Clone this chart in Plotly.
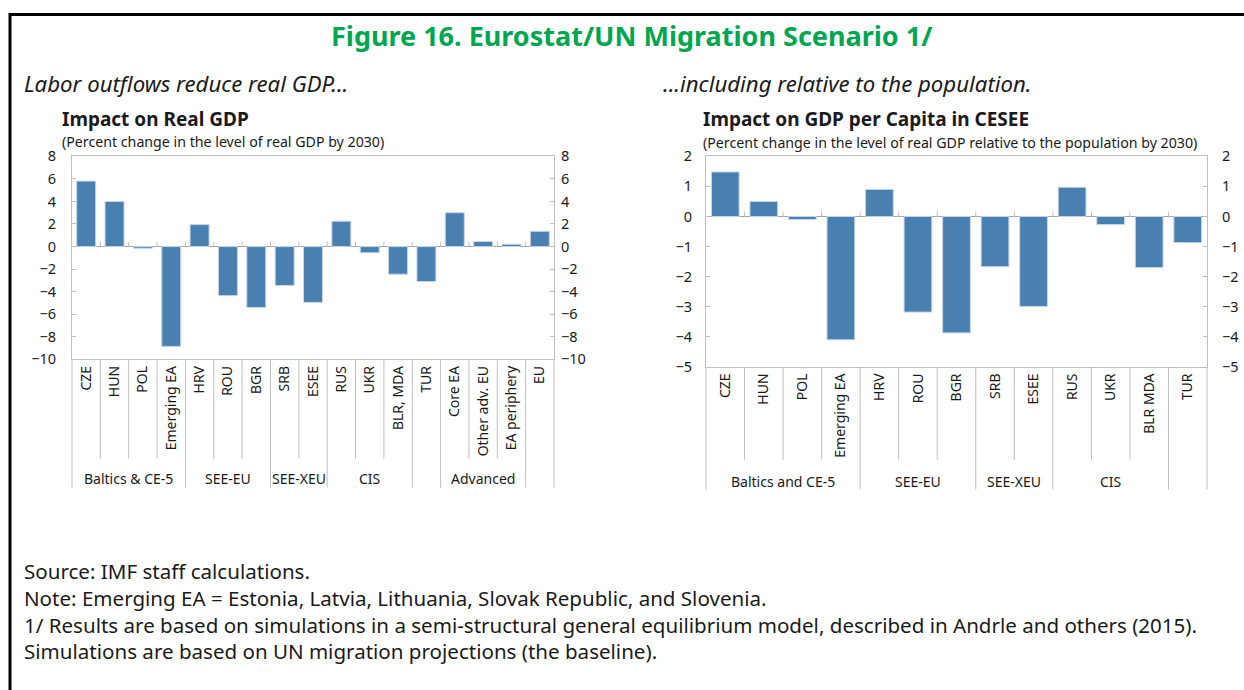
import plotly.graph_objects as go

# ---------------- data ----------------
cats_left = ["CZE", "HUN", "POL", "Emerging EA", "HRV", "ROU", "BGR", "SRB", "ESEE",
             "RUS", "UKR", "BLR, MDA", "TUR", "Core EA", "Other adv. EU", "EA periphery", "EU"]
gdp_left = [5.8, 4.0, -0.15, -8.85, 1.95, -4.35, -5.4, -3.45, -4.95,
            2.25, -0.55, -2.45, -3.1, 3.0, 0.45, 0.2, 1.35]
groups_left = ["Baltics & CE-5", "SEE-EU", "SEE-XEU", "CIS", "", "Advanced", ""]
group_sizes_left = [4, 3, 2, 3, 1, 3, 1]

cats_right = ["CZE", "HUN", "POL", "Emerging EA", "HRV", "ROU", "BGR", "SRB", "ESEE",
              "RUS", "UKR", "BLR MDA", "TUR"]
gdppc_right = [1.48, 0.5, -0.1, -4.1, 0.9, -3.18, -3.87, -1.67, -2.99,
               0.97, -0.27, -1.7, -0.87]
groups_right = ["Baltics and CE-5", "SEE-EU", "SEE-XEU", "CIS", ""]
group_sizes_right = [4, 3, 2, 3, 1]

title_text = "Figure 16. Eurostat/UN Migration Scenario 1/"
lead_left = "Labor outflows reduce real GDP..."
lead_right = "...including relative to the population."
chart_title_left = "Impact on Real GDP"
chart_sub_left = "(Percent change in the level of real GDP by 2030)"
chart_title_right = "Impact on GDP per Capita in CESEE"
chart_sub_right = "(Percent change in the level of real GDP relative to the population by 2030)"
notes = ["Source: IMF staff calculations.",
         "Note: Emerging EA = Estonia, Latvia, Lithuania, Slovak Republic, and Slovenia.",
         "1/ Results are based on simulations in a semi-structural general equilibrium model, described in Andrle and others (2015).",
         "Simulations are based on UN migration projections (the baseline)."]

# ---------------- layout constants ----------------
W, H = 1244, 690
FONT = "Noto Sans"
BAR = "#4A80B0"
BAR_EDGE = "#C7D6E9"
AXC = "#BFBFBF"
TXT = "#1a1a1a"
# the captured page shows a small vertical inset; compensate so targets land on reference pixels
V_SCALE, V_OFF = 0.973, 9.4


def px(x):
    return x / W


def py(y):
    return 1 - ((y - V_OFF) / V_SCALE) / H


fig = go.Figure()

fig.add_trace(go.Bar(x=cats_left, y=gdp_left, xaxis="x", yaxis="y", width=0.67,
                     marker=dict(color=BAR, line=dict(color=BAR_EDGE, width=1)),
                     showlegend=False, hoverinfo="x+y"))
fig.add_trace(go.Scatter(x=cats_left, y=gdp_left, xaxis="x", yaxis="y3", mode="none",
                         showlegend=False, hoverinfo="skip"))
fig.add_trace(go.Bar(x=cats_right, y=gdppc_right, xaxis="x2", yaxis="y2", width=0.72,
                     marker=dict(color=BAR, line=dict(color=BAR_EDGE, width=1)),
                     showlegend=False, hoverinfo="x+y"))
fig.add_trace(go.Scatter(x=cats_right, y=gdppc_right, xaxis="x2", yaxis="y4", mode="none",
                         showlegend=False, hoverinfo="skip"))

tickfont = dict(family=FONT, size=14.5, color=TXT)
catfont = dict(family=FONT, size=14, color=TXT)

L_dom_x = [px(72), px(554)]
L_dom_y = [py(358.5), py(155)]
R_dom_x = [px(706), px(1207)]
R_dom_y = [py(366), py(155)]

xcommon = dict(type="category", tickangle=-90, ticks="", showline=True, linecolor=AXC,
               mirror=True, showgrid=False, tickfont=catfont, fixedrange=True)
ycommon = dict(showgrid=False, ticks="inside", ticklen=4, tickcolor=AXC, showline=True,
               linecolor=AXC, mirror=True, zeroline=True, zerolinecolor="#A6A6A6",
               zerolinewidth=1, tickfont=tickfont, fixedrange=True)

fig.update_layout(
    width=W, height=H,
    margin=dict(l=0, r=0, t=0, b=0),
    paper_bgcolor="white", plot_bgcolor="white",
    font=dict(family=FONT, color=TXT),
    xaxis=dict(domain=L_dom_x, anchor="y", ticklabelstandoff=0, **xcommon),
    yaxis=dict(domain=L_dom_y, anchor="x", range=[-10, 8], dtick=2,
               ticklabelstandoff=12, **ycommon),
    yaxis3=dict(overlaying="y", side="right", anchor="x", range=[-10, 8], dtick=2,
                showgrid=False, ticks="inside", ticklen=4, tickcolor=AXC, showline=False,
                zeroline=False, tickfont=tickfont, ticklabelstandoff=6, fixedrange=True),
    xaxis2=dict(domain=R_dom_x, anchor="y2", ticklabelstandoff=0, **xcommon),
    yaxis2=dict(domain=R_dom_y, anchor="x2", range=[-5, 2], dtick=1,
                ticklabelstandoff=10, **ycommon),
    yaxis4=dict(overlaying="y2", side="right", anchor="x2", range=[-5, 2], dtick=1,
                showgrid=False, ticks="inside", ticklen=4, tickcolor=AXC, showline=False,
                zeroline=False, tickfont=tickfont, ticklabelstandoff=14, fixedrange=True),
)

shapes = []
annotations = []

# outer frame
shapes.append(dict(type="rect", xref="paper", yref="paper", x0=px(10), x1=px(1260),
                   y0=py(720), y1=py(13), line=dict(color="black", width=3),
                   fillcolor="rgba(0,0,0,0)", layer="below"))


def add_category_frame(xref_dom, xref_data, cats, sizes, labels, y_axis_px, y_cat_px,
                       y_grp_px, y_lab_px, yref_data):
    n = len(cats)
    bounds = [0]
    for s in sizes:
        bounds.append(bounds[-1] + s)
    for k in range(0, n + 1):
        end = y_grp_px if k in bounds else y_cat_px
        shapes.append(dict(type="line", xref=xref_dom, yref="paper", x0=k / n, x1=k / n,
                           y0=py(y_axis_px), y1=py(end), line=dict(color=AXC, width=1)))
    # small ticks on the zero line between categories
    for k in range(1, n):
        shapes.append(dict(type="line", xref=xref_data, yref=yref_data, x0=k - 0.5, x1=k - 0.5,
                           ysizemode="pixel", yanchor=0, y0=0, y1=5,
                           line=dict(color=AXC, width=1)))
    for lab, a, b in zip(labels, bounds[:-1], bounds[1:]):
        if lab:
            annotations.append(dict(text=lab, xref=xref_data, yref="paper",
                                    x=(a + b - 1) / 2, y=py(y_lab_px), showarrow=False,
                                    xanchor="center", yanchor="middle",
                                    font=dict(family=FONT, size=14, color=TXT)))


add_category_frame("x domain", "x", cats_left, group_sizes_left, groups_left,
                   358.5, 458, 487, 478, "y")
add_category_frame("x2 domain", "x2", cats_right, group_sizes_right, groups_right,
                   366, 459, 489, 481, "y2")


def text(t, x, y, size, bold=False, italic=False, color=TXT, anchor="left"):
    s = t
    if bold:
        s = "<b>" + s + "</b>"
    if italic:
        s = "<i>" + s + "</i>"
    annotations.append(dict(text=s, xref="paper", yref="paper", x=px(x), y=py(y),
                            xanchor=anchor, yanchor="middle", showarrow=False,
                            font=dict(family=FONT, size=size, color=color)))


text(title_text, 632, 34, 27, bold=True, color="#00A650", anchor="center")
text(lead_left, 22, 82, 22.2, italic=True)
text(lead_right, 661, 82, 22.2, italic=True)
text(chart_title_left, 60, 118, 19, bold=True)
text(chart_sub_left, 60, 140, 14.2)
text(chart_title_right, 701, 118, 19, bold=True)
text(chart_sub_right, 701, 141, 14.2)
for i, line in enumerate(notes):
    text(line, 22, 571 + i * 26.7, 20.55)

fig.update_layout(shapes=shapes, annotations=annotations)

fig.write_html(
    "out.html",
    config={"displayModeBar": False, "responsive": False},
    post_script=(
        "document.body.style.margin='0';document.body.style.padding='0';"
        "document.documentElement.style.overflow='hidden';"
        "var d=document.getElementById('{plot_id}');"
        "d.style.position='fixed';d.style.left='0px';d.style.top='0px';"
    ),
)
